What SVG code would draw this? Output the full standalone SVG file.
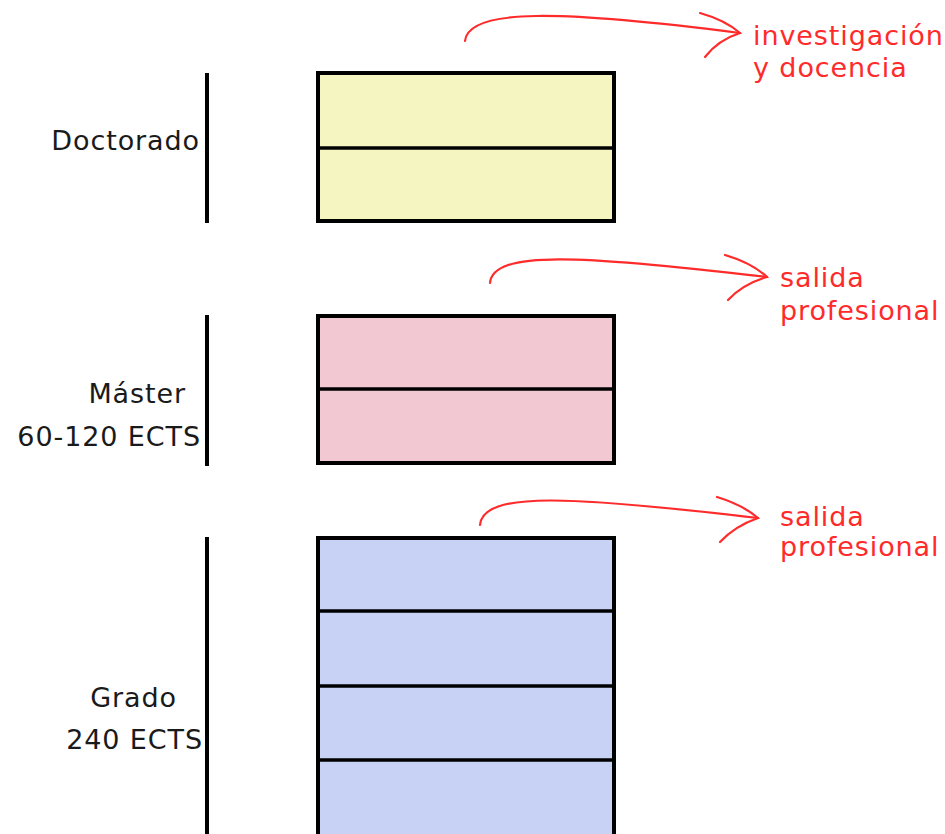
<svg xmlns="http://www.w3.org/2000/svg" width="945" height="834" viewBox="0 0 945 834">
<style>
.lbl{font-family:"DejaVu Sans",Verdana,sans-serif;font-size:27px;letter-spacing:0.9px;fill:#1a1a1a;text-anchor:end}
.red{font-family:"DejaVu Sans",Verdana,sans-serif;font-size:27px;letter-spacing:0.9px;fill:#ff2a2a}
.bar{stroke:#000;stroke-width:4;fill:none}
.box{stroke:#000;stroke-width:4}
.div{stroke:#000;stroke-width:3.5}
.arr{stroke:#ff2a2a;stroke-width:2.2;fill:none;stroke-linecap:round}
</style>
<rect width="945" height="834" fill="#fff"/>
<g id="doctorado">
<line class="bar" x1="207" y1="73" x2="207" y2="223"/>
<rect class="box" x="318" y="73" width="296" height="148" fill="#f5f5c2"/>
<line class="div" x1="318" y1="148" x2="614" y2="148"/>
<text class="lbl" x="200" y="150">Doctorado</text>
</g>
<g id="master">
<line class="bar" x1="207" y1="315" x2="207" y2="466"/>
<rect class="box" x="318" y="316" width="296" height="147" fill="#f2c8d2"/>
<line class="div" x1="318" y1="389" x2="614" y2="389"/>
<text class="lbl" x="186" y="403">Máster</text>
<text class="lbl" x="201" y="446">60-120 ECTS</text>
</g>
<g id="grado">
<line class="bar" x1="207" y1="537" x2="207" y2="834"/>
<rect class="box" x="318" y="538" width="296" height="300" fill="#c8d2f4"/>
<line class="div" x1="318" y1="611" x2="614" y2="611"/>
<line class="div" x1="318" y1="686" x2="614" y2="686"/>
<line class="div" x1="318" y1="760" x2="614" y2="760"/>
<text class="lbl" x="177" y="707">Grado</text>
<text class="lbl" x="203" y="749">240 ECTS</text>
</g>
<g id="connectors">
<path class="arr" d="M465 41 C468 8, 560 10, 740 33"/>
<path class="arr" d="M700 13 Q725 20, 740 33 Q718 40, 705 57"/>
<path class="arr" d="M490 283 C493 250, 580 255, 767 277"/>
<path class="arr" d="M725 255 Q752 263, 767 277 Q743 284, 728 300"/>
<path class="arr" d="M480 525 C483 491, 570 496, 758 518"/>
<path class="arr" d="M717 497 Q743 505, 758 518 Q735 526, 720 542"/>
</g>
<g id="labels">
<text class="red" x="753" y="45">investigación</text>
<text class="red" x="753" y="77">y docencia</text>
<text class="red" x="780" y="287">salida</text>
<text class="red" x="780" y="320">profesional</text>
<text class="red" x="780" y="526">salida</text>
<text class="red" x="780" y="556">profesional</text>
</g>
</svg>
